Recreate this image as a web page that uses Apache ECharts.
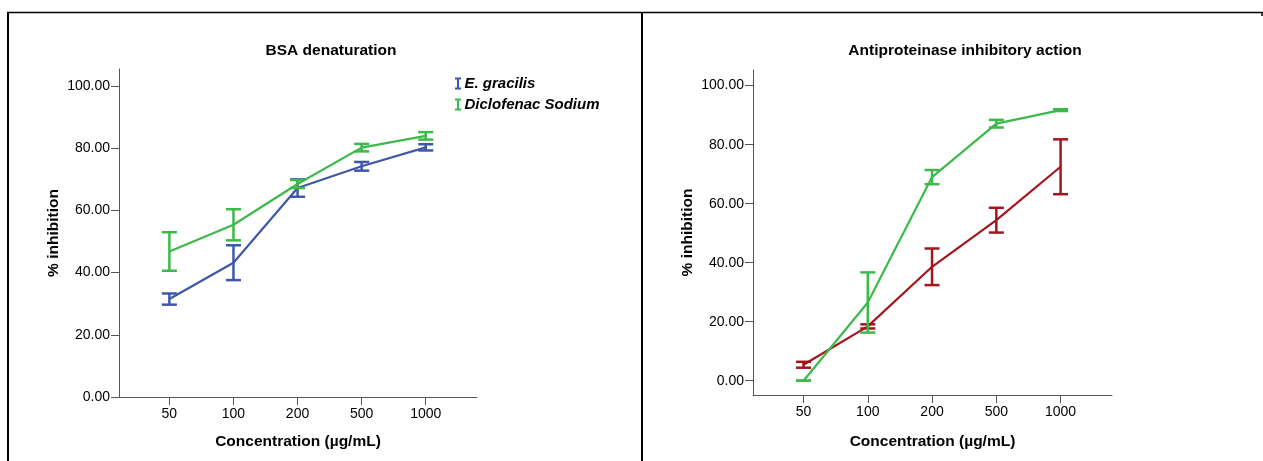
<!DOCTYPE html>
<html>
<head>
<meta charset="utf-8">
<script src="https://cdn.jsdelivr.net/npm/echarts@6/dist/echarts.min.js"></script>
<style>
html,body{margin:0;padding:0;background:#fff;}
#c{width:1263px;height:461px;}
</style>
</head>
<body>
<div id="c"></div>
<script>
// ---- data ----
const categories = ['50', '100', '200', '500', '1000'];
const yTicks = [0, 20, 40, 60, 80, 100];

// BSA denaturation (mean, error half-width)
const bsaGracilisMean = [31.5, 43.2, 67.2, 74.2, 80.3];
const bsaGracilisErr  = [1.8, 5.6, 2.8, 1.4, 1.0];
const bsaDiclofenacMean = [46.8, 55.4, 68.5, 80.2, 84.0];
const bsaDiclofenacErr  = [6.2, 5.0, 1.3, 1.2, 1.2];

// Antiproteinase inhibitory action
const apGracilisMean = [5.4, 18.4, 38.6, 54.4, 72.5];
const apGracilisErr  = [1.0, 0.7, 6.2, 4.2, 9.3];
const apDiclofenacMean = [0.0, 26.5, 69.0, 87.1, 91.7];
const apDiclofenacErr  = [0.0, 10.2, 2.4, 1.3, 0.3];

const BLUE = '#3F57A8';
const GREEN = '#3DB94B';
const RED = '#A3161D';
const FONT = 'Liberation Sans, Arial, sans-serif';

function lineData(mean){ return mean.map((v,i)=>[i, v]); }
function errData(mean, err){ return mean.map((v,i)=>[i, v-err[i], v+err[i]]); }

function errRender(params, api){
  const x = api.value(0), lo = api.value(1), hi = api.value(2);
  const pLo = api.coord([x, lo]);
  const pHi = api.coord([x, hi]);
  const hw = 7.5;
  const style = {stroke: api.visual('color'), lineWidth: 2.5, fill: null};
  return {
    type: 'group',
    children: [
      {type:'line', shape:{x1:pLo[0], y1:pLo[1], x2:pHi[0], y2:pHi[1]}, style: style},
      {type:'line', shape:{x1:pLo[0]-hw, y1:pLo[1], x2:pLo[0]+hw, y2:pLo[1]}, style: style},
      {type:'line', shape:{x1:pHi[0]-hw, y1:pHi[1], x2:pHi[0]+hw, y2:pHi[1]}, style: style}
    ]
  };
}

function xAxisDef(gridIndex, nameGap){
  return {
    type: 'value', gridIndex: gridIndex, min: -0.786, max: 4.8,
    splitLine: {show: false},
    axisLine: {show: true, onZero: false, lineStyle: {color: '#555', width: 1}},
    axisTick: {show: true, length: 8, lineStyle: {color: '#555'}, customValues: [0,1,2,3,4]},
    axisLabel: {show: true, customValues: [0,1,2,3,4], formatter: v => categories[Math.round(v)],
      color: '#000', fontFamily: FONT, fontSize: 14, margin: 10},
    name: 'Concentration (µg/mL)', nameLocation: 'middle', nameGap: nameGap,
    nameTextStyle: {color: '#000', fontFamily: FONT, fontSize: 15.5, fontWeight: 'bold'}
  };
}
function yAxisDef(gridIndex, min, max){
  return {
    type: 'value', gridIndex: gridIndex, min: min, max: max,
    splitLine: {show: false},
    axisLine: {show: true, onZero: false, lineStyle: {color: '#555', width: 1}},
    axisTick: {show: true, length: 8, lineStyle: {color: '#555'}, customValues: yTicks},
    axisLabel: {show: true, customValues: yTicks, formatter: v => v.toFixed(2),
      color: '#000', fontFamily: FONT, fontSize: 14, margin: 9},
    name: '% inhibition', nameLocation: 'middle', nameGap: 57, nameRotate: 90,
    nameTextStyle: {color: '#000', fontFamily: FONT, fontSize: 15.5, fontWeight: 'bold'}
  };
}

const chart = echarts.init(document.getElementById('c'), null, {renderer: 'canvas'});
chart.setOption({
  backgroundColor: '#fff',
  animation: false,
  title: [
    {text: 'BSA denaturation', left: 326, top: 38, textAlign: 'center',
     textStyle: {fontFamily: FONT, fontSize: 15.5, fontWeight: 'bold', color: '#000'}},
    {text: 'Antiproteinase inhibitory action', left: 960, top: 38, textAlign: 'center',
     textStyle: {fontFamily: FONT, fontSize: 15.5, fontWeight: 'bold', color: '#000'}}
  ],
  legend: {
    data: ['E. gracilis', 'Diclofenac Sodium'],
    orient: 'vertical', left: 450, top: 71, itemGap: 6,
    itemWidth: 7, itemHeight: 12,
    icon: 'path://M0,0H6V2H4V10H6V12H0V10H2V2H0Z',
    textStyle: {fontFamily: FONT, fontSize: 15, fontWeight: 'bold', fontStyle: 'italic', color: '#000', padding: [0,0,0,-2]},
    selectedMode: false
  },
  grid: [
    {left: 119, top: 69, width: 358, height: 328},
    {left: 753, top: 70, width: 359, height: 325}
  ],
  xAxis: [xAxisDef(0, 37), xAxisDef(1, 39)],
  yAxis: [yAxisDef(0, 0, 105.5), yAxisDef(1, -4.85, 105.3)],
  graphic: [
    {type:'line', shape:{x1:7, y1:12.5, x2:1263, y2:12.5}, style:{stroke:'#000', lineWidth:1.5}},
    {type:'line', shape:{x1:8, y1:12, x2:8, y2:461}, style:{stroke:'#000', lineWidth:2}},
    {type:'line', shape:{x1:642, y1:12, x2:642, y2:461}, style:{stroke:'#000', lineWidth:2}},
    {type:'line', shape:{x1:1262, y1:12, x2:1262, y2:16}, style:{stroke:'#000', lineWidth:1.5}}
  ],
  series: [
    {name: 'E. gracilis', type: 'line', xAxisIndex: 0, yAxisIndex: 0, data: lineData(bsaGracilisMean),
     color: BLUE, lineStyle: {width: 2.2, color: BLUE}, symbol: 'none', z: 3},
    {name: 'Diclofenac Sodium', type: 'line', xAxisIndex: 0, yAxisIndex: 0, data: lineData(bsaDiclofenacMean),
     color: GREEN, lineStyle: {width: 2.2, color: GREEN}, symbol: 'none', z: 3},
    {name: 'E. gracilis err', type: 'custom', xAxisIndex: 0, yAxisIndex: 0, data: errData(bsaGracilisMean, bsaGracilisErr),
     color: BLUE, renderItem: errRender, z: 4},
    {name: 'Diclofenac Sodium err', type: 'custom', xAxisIndex: 0, yAxisIndex: 0, data: errData(bsaDiclofenacMean, bsaDiclofenacErr),
     color: GREEN, renderItem: errRender, z: 4},

    {name: 'AP E. gracilis', type: 'line', xAxisIndex: 1, yAxisIndex: 1, data: lineData(apGracilisMean),
     color: RED, lineStyle: {width: 2.2, color: RED}, symbol: 'none', z: 3},
    {name: 'AP Diclofenac Sodium', type: 'line', xAxisIndex: 1, yAxisIndex: 1, data: lineData(apDiclofenacMean),
     color: GREEN, lineStyle: {width: 2.2, color: GREEN}, symbol: 'none', z: 3},
    {name: 'AP E. gracilis err', type: 'custom', xAxisIndex: 1, yAxisIndex: 1, data: errData(apGracilisMean, apGracilisErr),
     color: RED, renderItem: errRender, z: 4},
    {name: 'AP Diclofenac Sodium err', type: 'custom', xAxisIndex: 1, yAxisIndex: 1, data: errData(apDiclofenacMean, apDiclofenacErr),
     color: GREEN, renderItem: errRender, z: 4}
  ]
});
</script>
</body>
</html>
